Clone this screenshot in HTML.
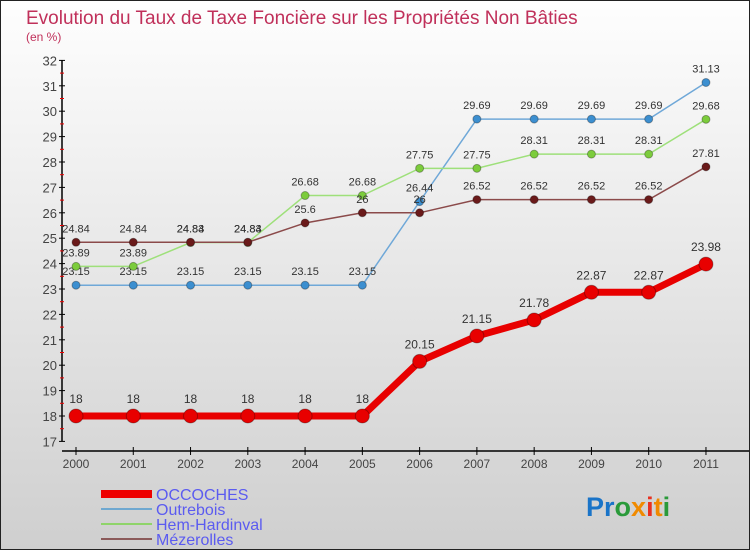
<!DOCTYPE html>
<html><head><meta charset="utf-8"><style>
body{margin:0;}
#c{width:748px;height:548px;border:1px solid #222;background:linear-gradient(#fefefe,#cfcfcf);position:relative;font-family:"Liberation Sans",sans-serif;overflow:hidden}
</style></head><body>
<div id="c">
<svg width="748" height="548" id="svg">
<text x="25" y="23" font-size="19" fill="#c0305a">Evolution du Taux de Taxe Foncière sur les Propriétés Non Bâties</text>
<text x="25" y="40" font-size="12" fill="#c0305a">(en %)</text>
<g id="axes"></g><g id="series"></g>
<g>
<rect x="100" y="489" width="51" height="8" fill="#e00"/>
<text x="155" y="499" font-size="16" fill="#5b5bf0">OCCOCHES</text>
<line x1="100" y1="508" x2="151" y2="508" stroke="#6fa8d0" stroke-width="2"/>
<text x="155" y="514" font-size="16" fill="#5b5bf0">Outrebois</text>
<line x1="100" y1="523" x2="151" y2="523" stroke="#8fd46a" stroke-width="2"/>
<text x="155" y="529" font-size="16" fill="#5b5bf0">Hem-Hardinval</text>
<line x1="100" y1="538" x2="151" y2="538" stroke="#8b5a5a" stroke-width="2"/>
<text x="155" y="544" font-size="16" fill="#5b5bf0">Mézerolles</text>
</g>
<text x="585" y="515" font-size="27" font-weight="bold"><tspan fill="#1a74c8">Pr</tspan><tspan fill="#2a9a3a">o</tspan><tspan fill="#f08a00">x</tspan><tspan fill="#e83020">i</tspan><tspan fill="#f08a00">t</tspan><tspan fill="#2a9a3a">i</tspan></text>
</svg></div>
<script>
const years=["2000","2001","2002","2003","2004","2005","2006","2007","2008","2009","2010","2011"];
const yTicks=[17,18,19,20,21,22,23,24,25,26,27,28,29,30,31,32];
const occoches=[18,18,18,18,18,18,20.15,21.15,21.78,22.87,22.87,23.98];
const outrebois=[23.15,23.15,23.15,23.15,23.15,23.15,26.44,29.69,29.69,29.69,29.69,31.13];
const hem=[23.89,23.89,24.83,24.83,26.68,26.68,27.75,27.75,28.31,28.31,28.31,29.68];
const mezerolles=[24.84,24.84,24.84,24.84,25.6,26,26,26.52,26.52,26.52,26.52,27.81];
const NS="http://www.w3.org/2000/svg";
function X(i){return 75+i*57.27;}
function Y(v){return 288-(v-23)*25.4;}
function mk(t,a,p){const e=document.createElementNS(NS,t);for(const k in a)e.setAttribute(k,a[k]);p.appendChild(e);return e;}
const ax=document.getElementById('axes');
const ya=mk('line',{x1:61,y1:Y(32),x2:61,y2:Y(17),stroke:'#000','stroke-width':1.5},ax);


yTicks.forEach(v=>{
 const l=mk('line',{x1:58,x2:64,y1:Y(v),y2:Y(v),stroke:'#000'},ax);
 
 
 if(v<32){const m=mk('line',{x1:59,x2:63,y1:Y(v+0.5),y2:Y(v+0.5),stroke:'#e00'},ax);
 
 }
 const t=mk('text',{x:56,y:Y(v)+5,'text-anchor':'end','font-size':13,fill:'#444'},ax);t.textContent=v;
 
 
});
const xa=mk('line',{x1:61,y1:450,x2:748,y2:450,stroke:'#000','stroke-width':1.5},ax);


years.forEach((y,i)=>{
 const l=mk('line',{x1:X(i),x2:X(i),y1:446,y2:454,stroke:'#000'},ax);
 
 
 const t=mk('text',{x:X(i),y:467,'text-anchor':'middle','font-size':12,fill:'#444'},ax);t.textContent=y;
 
 
});
const sg=document.getElementById('series');
function draw(vals,name,line,dot,w,r,fs){
 const g=mk('g',{},sg);
 
 
 const p=mk('polyline',{points:vals.map((v,i)=>X(i)+','+Y(v)).join(' '),fill:'none',stroke:line,'stroke-width':w},g);
 
 
 vals.forEach((v,i)=>{
  const c=mk('circle',{cx:X(i),cy:Y(v),r:r,fill:dot,stroke:'rgba(0,0,0,0.3)'},g);
  
  
  const t=mk('text',{x:X(i),y:Y(v)-(r+6),'text-anchor':'middle','font-size':fs,fill:'#333'},g);
  t.textContent=String(v);
  
  
 });
}
draw(outrebois,'outrebois','#6fa8d8','#3c8fd0',1.5,4,11);
draw(hem,'hem-hardinval','#9ee07a','#7ccc3c',1.5,4,11);
draw(mezerolles,'mezerolles','#8b4a4a','#6a1a1a',1.5,4,11);
draw(occoches,'occoches','#e80000','#e80000',7,7,12);
</script></body></html>
